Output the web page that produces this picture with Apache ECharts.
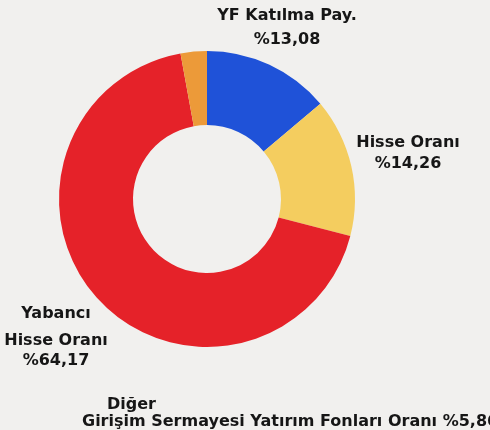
<!DOCTYPE html>
<html>
<head>
<meta charset="utf-8">
<script src="https://cdn.jsdelivr.net/npm/echarts@6/dist/echarts.min.js"></script>
<style>
html,body{margin:0;padding:0;background:#f1f0ee;}
#chart{width:490px;height:430px;}
</style>
</head>
<body>
<div id="chart"></div>
<script>
// Data
const categories = ['YF Katılma Pay.', 'Hisse Oranı', 'Yabancı Hisse Oranı', 'Diğer Girişim Sermayesi Yatırım Fonları Oranı'];
const labelNameLines = [['YF Katılma Pay.'], ['Hisse Oranı'], ['Yabancı', 'Hisse Oranı'], ['Diğer', 'Girişim Sermayesi Yatırım Fonları Oranı']];
const percentLabels = ['%13,08', '%14,26', '%64,17', '%5,86'];
const values = [13.08, 14.26, 64.17, 2.7];
const colors = ['#1f52d8', '#f4cd5f', '#e52229', '#ec9a39'];

// Label layout
const labelPlace = [
  {x: 287, y: 4, align: 'center'},
  {x: 408, y: 132, align: 'center'},
  {x: 56, y: 297, align: 'center'},
  {x: 82, y: 396, align: 'left'}
];

const chart = echarts.init(document.getElementById('chart'));
const FONT = 'DejaVu Sans';

function richFor(i) {
  const base = {fontFamily: FONT, fontWeight: 'bold', fontSize: 16, color: '#161616'};
  if (i === 0) return {a: Object.assign({lineHeight: 24}, base), b: Object.assign({lineHeight: 24}, base)};
  if (i === 1) return {a: Object.assign({lineHeight: 21}, base), b: Object.assign({lineHeight: 21}, base)};
  if (i === 2) return {a0: Object.assign({lineHeight: 34}, base), a: Object.assign({lineHeight: 20}, base), b: Object.assign({lineHeight: 20}, base)};
  return {a0: Object.assign({lineHeight: 17, padding: [0, 0, 0, 25]}, base), a: Object.assign({lineHeight: 17}, base), b: Object.assign({lineHeight: 17}, base)};
}

const data = categories.map((name, i) => {
  const lines = labelNameLines[i];
  let fmt;
  if (i === 2) fmt = '{a0|' + lines[0] + '}\n{a|' + lines[1] + '}\n{b|' + percentLabels[i] + '}';
  else if (i === 3) fmt = '{a0|' + lines[0] + '}\n{a|' + lines[1] + ' ' + percentLabels[i] + '}';
  else fmt = '{a|' + lines[0] + '}\n{b|' + percentLabels[i] + '}';
  return {
    name: name,
    value: values[i],
    itemStyle: {color: colors[i]},
    label: {formatter: fmt, rich: richFor(i), align: labelPlace[i].align}
  };
});

chart.setOption({
  backgroundColor: '#f1f0ee',
  animation: false,
  series: [{
    type: 'pie',
    center: [207, 199],
    radius: [74, 148],
    startAngle: 90,
    clockwise: true,
    avoidLabelOverlap: false,
    emphasis: {disabled: true},
    itemStyle: {borderWidth: 0},
    label: {show: true, position: 'outside'},
    labelLine: {show: false},
    labelLayout: function (p) {
      const lp = labelPlace[p.dataIndex];
      return {x: lp.x, y: lp.y, align: lp.align, verticalAlign: 'top', hideOverlap: false};
    },
    data: data
  }]
});
</script>
</body>
</html>
